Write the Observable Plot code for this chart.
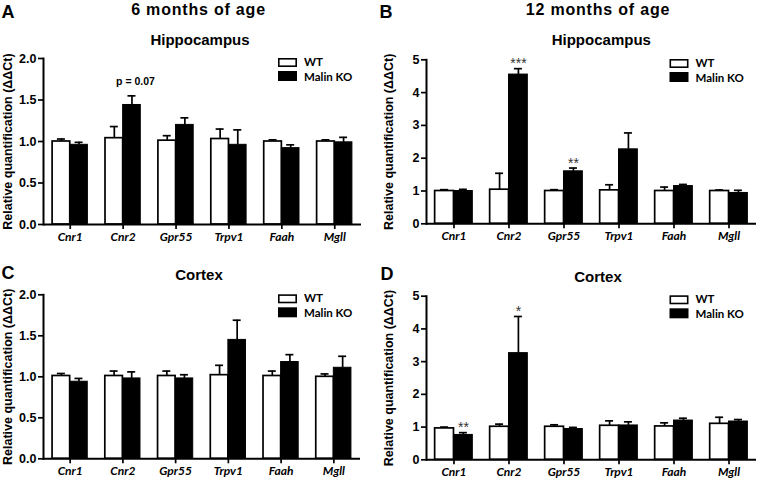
<!DOCTYPE html>
<html><head><meta charset="utf-8">
<script src="https://cdn.jsdelivr.net/npm/d3@7"></script>
<script src="https://cdn.jsdelivr.net/npm/@observablehq/plot@0.6"></script>
<style>
body{margin:0;background:#fff;}
#root{position:relative;width:758px;height:480px;overflow:hidden;background:#fff;}
.panel{position:absolute;}
#overlay{position:absolute;left:0;top:0;pointer-events:none;}
</style>
</head><body><div id="root"></div>
<script>
// ---------- data ----------
const genes = ["Cnr1","Cnr2","Gpr55","Trpv1","Faah","Mgll"];
const groups = ["WT","Malin KO"];
const groupFill = ["white","black"];
const yLabel = "Relative quantification (\u0394\u0394Ct)";
const panelLetters = ["A","B","C","D"];
const ageTitles = ["6 months of age","12 months of age"];
const regionTitles = ["Hippocampus","Hippocampus","Cortex","Cortex"];

// A: 6 months, hippocampus
const hip6WT    = [1.00,1.04,1.01,1.03,1.00,1.00];
const hip6WTerr = [0.03,0.14,0.06,0.12,0.02,0.02];
const hip6KO    = [0.96,1.44,1.20,0.96,0.92,0.99];
const hip6KOerr = [0.03,0.11,0.085,0.18,0.04,0.06];
// B: 12 months, hippocampus
const hip12WT    = [1.00,1.04,1.00,1.02,1.00,1.00];
const hip12WTerr = [0.04,0.50,0.04,0.17,0.12,0.03];
const hip12KO    = [1.00,4.55,1.60,2.27,1.15,0.94];
const hip12KOerr = [0.05,0.18,0.10,0.50,0.05,0.08];
// C: 6 months, cortex
const ctx6WT    = [1.01,1.01,1.01,1.02,1.01,1.00];
const ctx6WTerr = [0.03,0.06,0.06,0.12,0.06,0.035];
const ctx6KO    = [0.94,0.98,0.98,1.45,1.18,1.11];
const ctx6KOerr = [0.04,0.08,0.045,0.24,0.09,0.14];
// D: 12 months, cortex
const ctx12WT    = [0.96,1.01,1.01,1.04,1.02,1.10];
const ctx12WTerr = [0.04,0.08,0.06,0.15,0.11,0.20];
const ctx12KO    = [0.76,3.26,0.94,1.05,1.20,1.17];
const ctx12KOerr = [0.07,1.12,0.05,0.11,0.07,0.06];

const ticks6 = [0,0.5,1,1.5,2];
const ticks12 = [0,1,2,3,4,5];

const sigA = [{gene:"Cnr2", group:"Malin KO", label:"p = 0.07", kind:"p"}];
const sigB = [{gene:"Cnr2", group:"Malin KO", label:"***", kind:"star"},
              {gene:"Gpr55", group:"Malin KO", label:"**", kind:"star"}];
const sigC = [];
const sigD = [{gene:"Cnr1", group:"Malin KO", label:"**", kind:"star"},
              {gene:"Cnr2", group:"Malin KO", label:"*", kind:"star"}];

// ---------- layout ----------
const FONT = "'Liberation Sans', Arial, sans-serif";
const FONT2 = "Lato, 'Liberation Sans', sans-serif";
const panels = [
  {wt:hip6WT, wtErr:hip6WTerr, ko:hip6KO, koErr:hip6KOerr, ticks:ticks6, fmt:d3.format(".1f"), sig:sigA,
   left:0, top:0, width:379, height:248, ml:43, mr:18, mt:58, mb:24, pi:0.333, po:0.172, labelOffset:40,
   legend:{x:278, y:58}},
  {wt:hip12WT, wtErr:hip12WTerr, ko:hip12KO, koErr:hip12KOerr, ticks:ticks12, fmt:d3.format("d"), sig:sigB,
   left:378, top:0, width:380, height:248, ml:48, mr:2, mt:59.3, mb:24.7, pi:0.315, po:0.157, labelOffset:42,
   legend:{x:669.5, y:59}},
  {wt:ctx6WT, wtErr:ctx6WTerr, ko:ctx6KO, koErr:ctx6KOerr, ticks:ticks6, fmt:d3.format(".1f"), sig:sigC,
   left:0, top:240, width:379, height:240, ml:43, mr:19, mt:54.3, mb:21.7, pi:0.333, po:0.172, labelOffset:40,
   legend:{x:278, y:294.3}},
  {wt:ctx12WT, wtErr:ctx12WTerr, ko:ctx12KO, koErr:ctx12KOerr, ticks:ticks12, fmt:d3.format("d"), sig:sigD,
   left:378, top:240, width:380, height:240, ml:48, mr:2, mt:55.7, mb:20.7, pi:0.315, po:0.157, labelOffset:42,
   legend:{x:669.5, y:295.3}}
];

const root = document.getElementById("root");

panels.forEach((p) => {
  const rowsWT = genes.map((g,i)=>({gene:g, group:groups[0], value:p.wt[i], err:p.wtErr[i]}));
  const rowsKO = genes.map((g,i)=>({gene:g, group:groups[1], value:p.ko[i], err:p.koErr[i]}));
  const bw = d3.scaleBand().domain(genes).range([p.ml, p.width - p.mr])
               .paddingInner(p.pi).paddingOuter(p.po).bandwidth();
  const half = bw/2, q = bw/4, cap = 8;
  const top = d => d.value + d.err;
  const sigRows = p.sig.map(s => {
    const r = (s.group === groups[0] ? rowsWT : rowsKO).find(d => d.gene === s.gene);
    return {...r, label:s.label, kind:s.kind};
  });
  const stars = sigRows.filter(d => d.kind === "star");
  const pvals = sigRows.filter(d => d.kind === "p");
  const chart = Plot.plot({
    width: p.width, height: p.height,
    marginLeft: p.ml, marginRight: p.mr, marginTop: p.mt, marginBottom: p.mb,
    style: {background:"transparent", fontFamily: FONT, fontSize:"12px", overflow:"visible"},
    x: {type:"band", domain: genes, paddingInner: p.pi, paddingOuter: p.po, round:false, label:null},
    y: {domain: [p.ticks[0], p.ticks[p.ticks.length-1]], label:null},
    marks: [
      Plot.barY(rowsWT, {x:"gene", y:"value", fill: groupFill[0], stroke:"black", strokeWidth:1.7, insetRight: half}),
      Plot.barY(rowsKO, {x:"gene", y:"value", fill: groupFill[1], stroke:"black", strokeWidth:1, insetLeft: half}),
      Plot.ruleX(rowsWT, {x:"gene", y1:"value", y2: top, dx: -q, stroke:"black", strokeWidth:1.7}),
      Plot.tickY(rowsWT, {x:"gene", y: top, insetLeft: q - cap/2, insetRight: bw - q - cap/2, stroke:"black", strokeWidth:1.7}),
      Plot.ruleX(rowsKO, {x:"gene", y1:"value", y2: top, dx: q, stroke:"black", strokeWidth:1.7}),
      Plot.tickY(rowsKO, {x:"gene", y: top, insetLeft: 3*q - cap/2, insetRight: q - cap/2, stroke:"black", strokeWidth:1.7}),
      Plot.text(stars, {x:"gene", y: top, text:"label", dx: q, dy:-5, lineAnchor:"middle",
                        fontSize:14, fill:"#333", fontFamily: FONT}),
      Plot.text(pvals, {x:"gene", y: top, text:"label", dx: q + 3.5, dy:-14, lineAnchor:"middle",
                        fontSize:10.5, fontWeight:"bold", fill:"black", fontFamily: FONT}),
      Plot.ruleY([0], {stroke:"black", strokeWidth:2}),
      Plot.frame({anchor:"left", stroke:"black", strokeWidth:2}),
      Plot.axisY({ticks: p.ticks, tickFormat: p.fmt, tickSize:5, tickPadding:2, strokeWidth:1.7,
                  fontWeight:"bold", fontSize:12.5, fontFamily: FONT,
                  label: yLabel, labelAnchor:"center", labelOffset: p.labelOffset, labelArrow:"none"}),
      Plot.axisX({tickSize:5, tickPadding:3, strokeWidth:1.7, label:null,
                  fontStyle:"italic", fontWeight:"bold", fontSize:12, fontFamily: FONT2})
    ]
  });
  const div = document.createElement("div");
  div.className = "panel";
  div.style.left = p.left + "px";
  div.style.top = p.top + "px";
  div.appendChild(chart);
  root.appendChild(div);
});

// ---------- titles & legends overlay ----------
const svg = d3.select(root).append("svg").attr("id","overlay").attr("width",758).attr("height",480);
const letterPos = [{x:1.5,y:17.5},{x:379.5,y:17.5},{x:1.5,y:278.5},{x:380.5,y:280}];
const agePos = [{x:198.5,y:14.5},{x:598,y:14.5}];
const regionPos = [{x:200,y:44.7},{x:601.3,y:44.7},{x:199,y:280},{x:598,y:281.5}];

svg.selectAll("text.letter").data(panelLetters).join("text").attr("class","letter")
  .attr("x",(d,i)=>letterPos[i].x).attr("y",(d,i)=>letterPos[i].y)
  .attr("font-family",FONT).attr("font-weight","bold").attr("font-size",18).text(d=>d);
svg.selectAll("text.age").data(ageTitles).join("text").attr("class","age")
  .attr("x",(d,i)=>agePos[i].x).attr("y",(d,i)=>agePos[i].y).attr("text-anchor","middle")
  .attr("font-family",FONT).attr("font-weight","bold").attr("font-size",16)
  .attr("letter-spacing",0.8).text(d=>d);
svg.selectAll("text.region").data(regionTitles).join("text").attr("class","region")
  .attr("x",(d,i)=>regionPos[i].x).attr("y",(d,i)=>regionPos[i].y).attr("text-anchor","middle")
  .attr("font-family",FONT).attr("font-weight","bold").attr("font-size",15).text(d=>d);

panels.forEach(p => {
  const g = svg.append("g").attr("transform",`translate(${p.legend.x},${p.legend.y})`);
  groups.forEach((name, i) => {
    const y = i * 13.5;
    if (i === 0) {
      g.append("rect").attr("x",0.8).attr("y",y+0.8).attr("width",17.4).attr("height",7.4)
        .attr("fill",groupFill[i]).attr("stroke","black").attr("stroke-width",1.6);
    } else {
      g.append("rect").attr("x",0).attr("y",y-0.5).attr("width",19).attr("height",10)
        .attr("fill",groupFill[i]);
    }
    g.append("text").attr("x",26).attr("y", y + (i===0?8:9)).attr("font-family",FONT2)
      .attr("font-weight","bold").attr("font-size",11.5).text(name);
  });
});
</script></body></html>
